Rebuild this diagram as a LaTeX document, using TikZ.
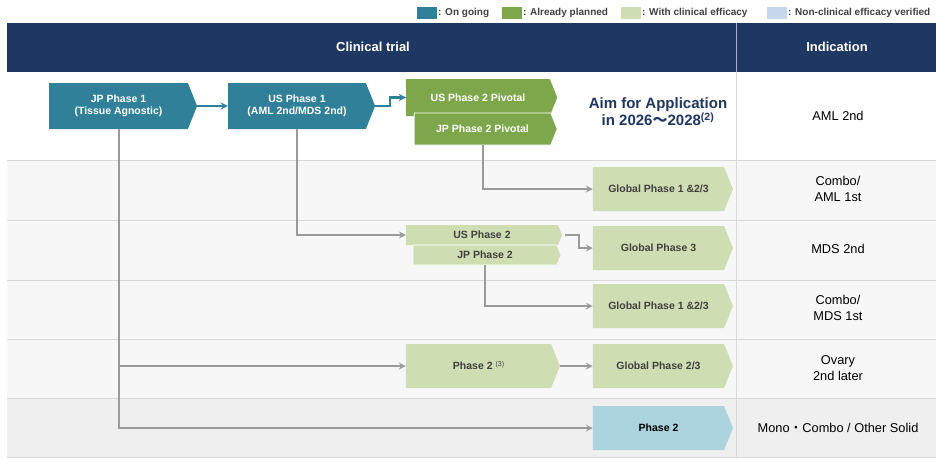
\documentclass[tikz,border=0pt]{standalone}
\usepackage{fontspec}
\setmainfont{Liberation Sans}
\newfontfamily\cjkfont{Noto Sans CJK JP}
\usetikzlibrary{shapes.symbols}
\definecolor{navy}{HTML}{1F3763}
\definecolor{ongoing}{HTML}{31809A}
\definecolor{planned}{HTML}{7DA74A}
\definecolor{efficacy}{HTML}{CFDDB3}
\definecolor{nonclin}{HTML}{C6D6EB}
\definecolor{othersolid}{HTML}{ABD4DF}
\definecolor{rowgray}{HTML}{F7F7F7}
\definecolor{lastrow}{HTML}{EFEFEF}
\definecolor{rulegray}{HTML}{D9D9D9}
\definecolor{linkgray}{HTML}{9A9A9A}
\definecolor{textgray}{HTML}{404040}
\begin{document}
\begin{tikzpicture}[>=stealth, x=1pt, y=-1pt,
	phase/.style={signal, signal to=east, signal pointer angle=136, inner sep=0pt, minimum height=44, minimum width=140, align=center, font=\fontsize{10.5}{12.5}\selectfont\bfseries},
	going/.style={phase, fill=ongoing, text=white},
	plan/.style={phase, fill=planned, text=white},
	effic/.style={phase, fill=efficacy, text=textgray},
	legend/.style={anchor=west, inner sep=1pt, font=\fontsize{10}{12}\selectfont\bfseries, text=textgray},
	head/.style={text=white, font=\fontsize{13}{15}\selectfont\bfseries},
	indic/.style={align=center, font=\fontsize{12.8}{15.5}\selectfont},
	tealarrow/.style={->, draw=ongoing, line width=2.2pt},
	grayarrow/.style={->, draw=linkgray, line width=2pt}]
	\useasboundingbox[fill=white] (0,0) rectangle (936,458);
	% table
	\fill[navy] (7,23) rectangle (936,72);
	\fill[rowgray] (7,160) rectangle (936,398);
	\fill[lastrow] (7,398) rectangle (936,457);
	\draw[rulegray] (7,160) -- (936,160) (7,220) -- (936,220) (7,280) -- (936,280)
	(7,339) -- (936,339) (7,398) -- (936,398) (7,457) -- (936,457);
	\draw[rulegray] (736,72) -- (736,457);
	\draw[white!60!navy] (736,23) -- (736,72);
	\node[head] (trial) at (373,47) {Clinical trial};
	\node[head] (indhead) at (837,47) {Indication};
	% legend
	\fill[ongoing] (417,7) rectangle (437,19);
	\node[legend] (lgongoing) at (437,13) {: On going};
	\fill[planned] (502,7) rectangle (522,19);
	\node[legend] (lgplanned) at (522,13) {: Already planned};
	\fill[efficacy] (621,7) rectangle (641,19);
	\node[legend] (lgefficacy) at (641,13) {: With clinical efficacy};
	\fill[nonclin] (767,7) rectangle (787,19);
	\node[legend] (lgnonclin) at (787,13) {: Non-clinical efficacy verified};
	% trials
	\node[going, minimum width=148, minimum height=46] (jpone) at (118.5,106) {JP Phase 1\\(Tissue Agnostic)};
	\node[going, minimum width=147, minimum height=46] (usone) at (297,106) {US Phase 1\\(AML 2nd/MDS 2nd)};
	\node[plan, minimum width=151, minimum height=37] (uspiv) at (478,97.5) {US Phase 2 Pivotal};
	\node[plan, draw=white, line width=0.8pt, minimum width=143, minimum height=32] (jppiv) at (482.5,129) {JP Phase 2 Pivotal};
	\node[text=navy, align=center, font=\fontsize{15}{17}\selectfont\bfseries] (aim) at (658,112) {Aim for Application\\in 2026{\cjkfont ～}2028\textsuperscript{(2)}};
	\node[effic] (glaml) at (658.5,189) {Global Phase 1 \&2/3};
	\node[effic, minimum width=156, minimum height=20] (ustwo) at (482,235) {US Phase 2};
	\node[effic, draw=white, line width=0.6pt, minimum width=148, minimum height=20] (jptwo) at (485,255) {JP Phase 2};
	\node[effic] (glthree) at (658.5,248) {Global Phase 3};
	\node[effic] (glmds) at (658.5,306) {Global Phase 1 \&2/3};
	\node[effic, minimum width=154] (ovtwo) at (478.5,366) {Phase 2 {\fontsize{7}{8}\selectfont\mdseries\raisebox{3pt}{(3)}}};
	\node[effic] (glovary) at (658.5,366) {Global Phase 2/3};
	\node[phase, fill=othersolid, text=black] (solid) at (658.5,428) {Phase 2};
	% indications
	\node[indic] (inaml) at (838,116) {AML 2nd};
	\node[indic] (incaml) at (838,189) {Combo/\\AML 1st};
	\node[indic] (inmds) at (838,249) {MDS 2nd};
	\node[indic] (incmds) at (838,308) {Combo/\\MDS 1st};
	\node[indic] (inovary) at (838,368) {Ovary\\2nd later};
	\node[indic] (insolid) at (838,428) {Mono{\cjkfont ・}Combo / Other Solid};
	% connectors
	\draw[tealarrow] (jpone.east) -- (usone.west);
	\draw[tealarrow] (usone.east) -- ++(15,0) |- (uspiv.west);
	\draw[grayarrow] (jppiv.south) |- (glaml.west);
	\draw[grayarrow] (usone.south) |- (ustwo.west);
	\draw[grayarrow, shorten <=3pt] (ustwo.east) -- ++(17,0) |- (glthree.west);
	\draw[grayarrow] (jptwo.south) |- (glmds.west);
	\draw[grayarrow] (jpone.south) |- (ovtwo.west);
	\draw[grayarrow] (jpone.south) |- (solid.west);
	\draw[grayarrow] (ovtwo.east) -- (glovary.west);
\end{tikzpicture}
\end{document}
